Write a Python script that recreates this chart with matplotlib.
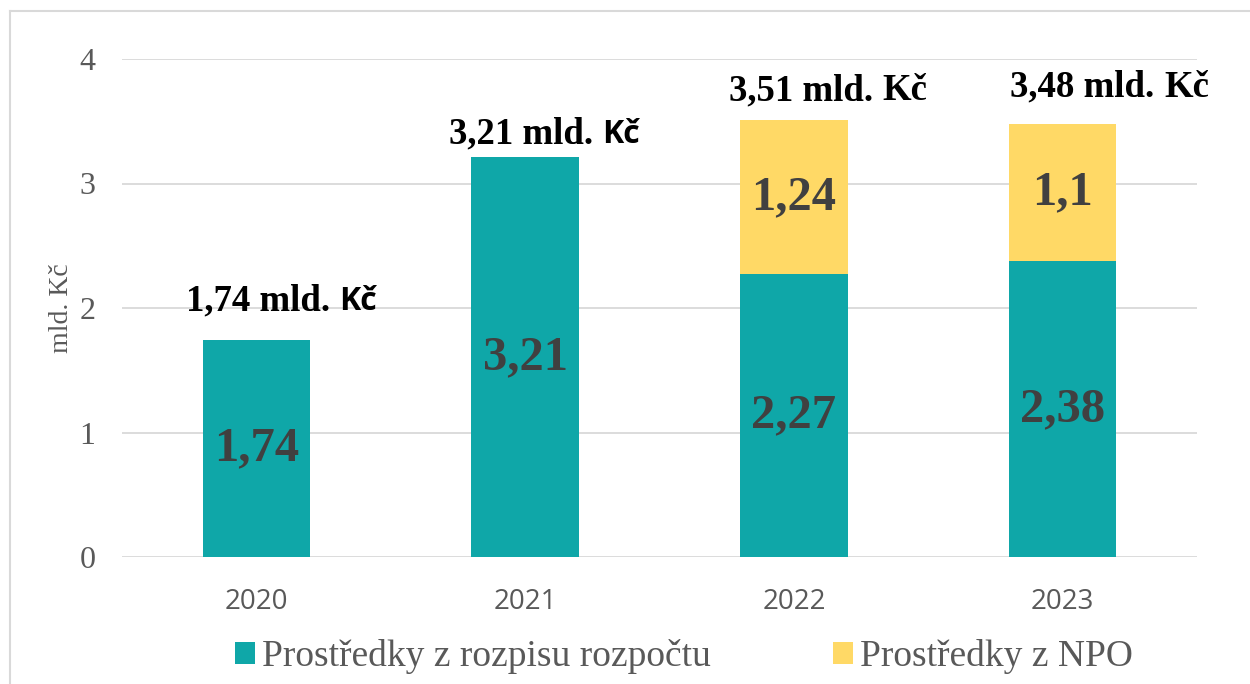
import matplotlib
matplotlib.use("Agg")
import matplotlib.pyplot as plt
from matplotlib.lines import Line2D
import numpy as np

years = ["2020", "2021", "2022", "2023"]
rozpocet = [1.74, 3.21, 2.27, 2.38]
npo = [0.0, 0.0, 1.24, 1.10]
rozpocet_labels = ["1,74", "3,21", "2,27", "2,38"]
npo_labels = ["", "", "1,24", "1,1"]
total_labels = ["1,74 mld. ", "3,21 mld. ", "3,51 mld. ", "3,48 mld. "]
total_values = [1.74, 3.21, 3.51, 3.48]
kc_sans = [True, True, False, False]
label_offsets_px = [30, 14, 20, 27]
label_shift_px = [25, 19, 34, 47]
y_ticks = [0, 1, 2, 3, 4]

teal = "#0FA7A8"
yellow = "#FFD966"
grid_c = "#D9D9D9"
dark = "#404040"

fig = plt.figure(figsize=(12.5, 6.84), dpi=100)
ax = fig.add_axes([122/1250, 1-557/684, 1075/1250, 498/684])

x = np.arange(len(years))
w = 0.4
ax.bar(x, rozpocet, width=w, color=teal, label="Prostředky z rozpisu rozpočtu", zorder=3)
ax.bar(x, npo, width=w, bottom=rozpocet, color=yellow, label="Prostředky z NPO", zorder=3)

ax.set_xlim(-0.5, 3.5)
ax.set_ylim(0, 4)
ax.set_yticks(y_ticks)
ax.set_yticklabels([str(t) for t in y_ticks], family="Liberation Serif", fontsize=23, color="#595959")
ax.set_xticks(x)
ax.set_xticklabels(years, family="Open Sans", fontsize=20, color="#595959")
ax.tick_params(axis="both", length=0)
ax.tick_params(axis="y", pad=19)
ax.tick_params(axis="x", pad=22)
for s in ax.spines.values():
    s.set_visible(False)
ax.yaxis.grid(True, color=grid_c, linewidth=1.3, zorder=0)
ax.set_axisbelow(True)
ax.set_ylabel("mld. Kč", family="Liberation Serif", fontsize=20, color="#595959", labelpad=4)

for i in range(len(years)):
    ax.text(x[i], rozpocet[i] / 2, rozpocet_labels[i], ha="center", va="center",
            family="Liberation Serif", fontweight="bold", fontsize=35, color=dark, zorder=4)
    if npo[i] > 0:
        ax.text(x[i], rozpocet[i] + npo[i] / 2, npo_labels[i], ha="center", va="center",
                family="Liberation Serif", fontweight="bold", fontsize=35, color=dark, zorder=4)

fig.canvas.draw()
r = fig.canvas.get_renderer()
for i in range(len(years)):
    fam2 = "Open Sans" if kc_sans[i] else "Liberation Serif"
    off = label_offsets_px[i] * 0.72
    t1 = ax.annotate(total_labels[i], (x[i], total_values[i]), xytext=(0, off),
                     textcoords="offset points", ha="left", va="baseline",
                     family="Liberation Serif", fontweight="bold", fontsize=26.5, color="black")
    t2 = ax.annotate("Kč", (x[i], total_values[i]), xytext=(0, off),
                     textcoords="offset points", ha="left", va="baseline",
                     family=fam2, fontweight="bold", fontsize=26.5 if not kc_sans[i] else 23, color="black")
    w1 = t1.get_window_extent(r).width
    w2 = t2.get_window_extent(r).width
    tot = w1 + w2
    left = -tot / 2 + label_shift_px[i]
    t1.set_position((left * 0.72, off))
    t2.set_position(((left + w1) * 0.72, off))

leg = fig.legend(loc="lower center", bbox_to_anchor=(0.547, -0.035), ncol=2, frameon=False,
                 prop={"family": "Liberation Serif", "size": 27}, labelcolor="#595959",
                 handlelength=0.53, handleheight=0.53, handletextpad=0.19, columnspacing=3.25)

fig.add_artist(Line2D([10/1250, 10/1250], [0, 1-11/684], transform=fig.transFigure, color="#D9D9D9", lw=1.5))
fig.add_artist(Line2D([10/1250, 1], [1-11/684, 1-11/684], transform=fig.transFigure, color="#D9D9D9", lw=1.5))

fig.savefig("out.png", dpi=100)
